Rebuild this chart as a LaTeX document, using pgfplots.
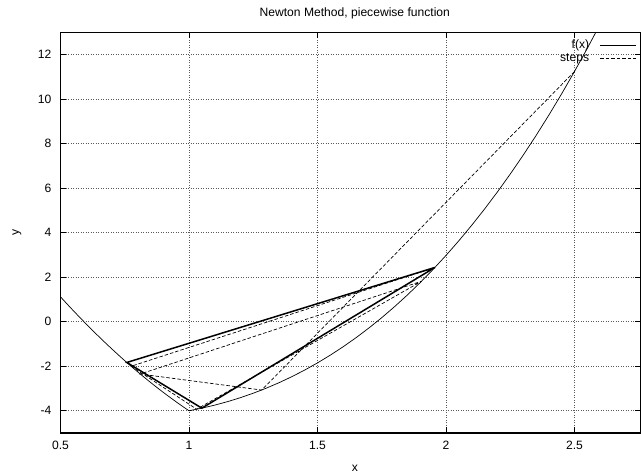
\documentclass[border=0pt]{standalone}
\usepackage{fontspec}
\setmainfont{Liberation Sans}
\usepackage{pgfplots}
\pgfplotsset{compat=1.18}
\begin{document}
\fontsize{12.1bp}{14.5bp}\selectfont
\begin{tikzpicture}
\useasboundingbox (-60.5bp,-41bp) rectangle (580.5bp,433bp);
\begin{axis}[
  at={(0,0)}, anchor=south west,
  scale only axis, width=580.5bp, height=400.5bp,
  xmin=0.5, xmax=2.759, ymin=-5, ymax=13,
  xtick={0.5,1,1.5,2,2.5},
  ytick={-4,-2,0,2,4,6,8,10,12},
  /pgf/number format/assume math mode=true,
  tick align=inside, tick pos=both,
  major tick length=6bp,
  minor tick num=0,
  tick style={black, line width=0.6bp},
  axis line style={black, line width=1.4bp},
  grid=major,
  major grid style={black!65, line width=0.6bp, dash pattern=on 0.8bp off 1.7bp},
  xticklabel style={anchor=north, yshift=-4bp},
  yticklabel style={anchor=east, xshift=-5bp},
  every axis title shift=0pt,
  title={Newton Method, piecewise function},
  title style={at={(axis description cs:0.507,1)}, anchor=base, yshift=16bp},
  xlabel={x},
  xlabel style={at={(axis description cs:0.507,0)}, anchor=base, yshift=-38bp},
  ylabel={y},
  ylabel style={at={(axis description cs:0,0.5)}, anchor=center, rotate=0, yshift=43.5bp},
  legend style={at={(axis description cs:1,1)}, anchor=north east, xshift=-4bp, yshift=-6bp,
    draw=none, fill=none, inner sep=0pt, row sep=1.5bp, column sep=10bp, nodes={inner sep=1bp}},
  legend cell align=right,
  legend plot pos=right,
  legend image code/.code={\draw[#1] (0bp,0bp) -- (36bp,0bp);},
]
% f(x)
\addplot[black, line width=0.7bp] coordinates {
(0.500,1.120) (0.525,0.805) (0.550,0.497) (0.575,0.195) (0.600,-0.102)
(0.625,-0.392) (0.650,-0.675) (0.675,-0.953) (0.700,-1.224) (0.725,-1.490)
(0.750,-1.749) (0.775,-2.002) (0.800,-2.248) (0.825,-2.489) (0.850,-2.723)
(0.875,-2.952) (0.900,-3.174) (0.925,-3.389) (0.950,-3.599) (0.975,-3.803)
(1.000,-4.000)
(1.05,-3.884) (1.10,-3.748) (1.15,-3.591) (1.20,-3.413) (1.25,-3.212)
(1.30,-2.989) (1.35,-2.742) (1.40,-2.470) (1.45,-2.173) (1.50,-1.850)
(1.55,-1.500) (1.60,-1.123) (1.65,-0.717) (1.70,-0.282) (1.75,0.182)
(1.80,0.678) (1.85,1.204) (1.90,1.763) (1.95,2.354) (2.00,2.979)
(2.05,3.638) (2.10,4.333) (2.15,5.063) (2.20,5.830) (2.25,6.635)
(2.30,7.477) (2.35,8.358) (2.40,9.280) (2.45,10.241) (2.50,11.244)
(2.55,12.288) (2.60,13.376)
};
\addlegendentry{f(x)}
% steps
\addplot[black, line width=0.7bp, dash pattern=on 3.5bp off 2bp] coordinates {
(2.500,11.244) (1.283,-3.070) (0.810,-2.350) (1.905,1.820) (1.030,-3.930)
(0.775,-2.000) (1.957,2.440)
};
\addlegendentry{steps}
% converged cycle (many overlapping steps)
\addplot[black, line width=1.5bp, forget plot] coordinates {
(1.957,2.440) (1.050,-3.884) (0.758,-1.830) (1.957,2.440)
};
\end{axis}
\end{tikzpicture}
\end{document}
